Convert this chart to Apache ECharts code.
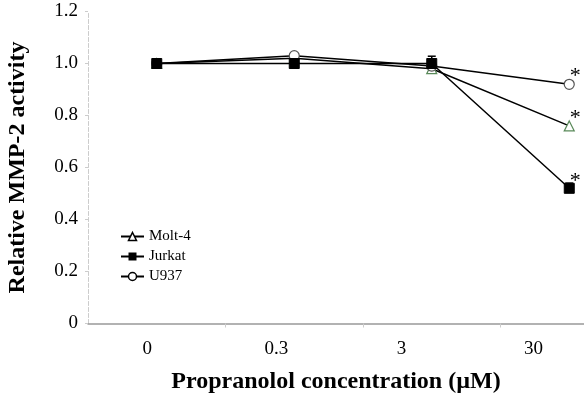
<!DOCTYPE html>
<html><head><meta charset="utf-8">
<script src="https://cdn.jsdelivr.net/npm/echarts@6/dist/echarts.min.js"></script>
<style>html,body{margin:0;padding:0;background:#fff}#c{width:584px;height:400px}</style>
</head><body><div id="c"></div>
<script>
const categories = ['0', '0.3', '3', '30'];
const molt4 = [1.00, 1.02, 0.98, 0.76];
const jurkat = [1.00, 1.00, 1.00, 0.52];
const u937 = [1.00, 1.03, 0.99, 0.92];
const jurkatErr = [0, 0, 0.028, 0.02];
const significance = ['', '', '', '*'];

const labelPos = [0.43, 1.37, 2.28, 3.24];
const FONT = '"Liberation Serif", "Times New Roman", serif';

function pts(arr) {
  return arr.map((v, i) => ({
    value: [i + 0.5, v],
    label: significance[i] ? {show: true, formatter: significance[i]} : {show: false}
  }));
}
const starLabel = {position: [6, -13], fontSize: 22, fontFamily: FONT, color: '#000'};

const chart = echarts.init(document.getElementById('c'));
chart.setOption({
  animation: false,
  backgroundColor: '#fff',
  grid: {left: 88, right: 0, top: 11.5, bottom: 76.5, containLabel: false, outerBoundsMode: 'none'},
  legend: {
    orient: 'vertical', left: 115, top: 224, itemGap: 5, itemWidth: 23, itemHeight: 10,
    textStyle: {fontFamily: FONT, fontSize: 15, color: '#000'},
    data: [
      {name: 'Molt-4', itemStyle: {color: '#fff', borderColor: '#000', borderWidth: 1.5}},
      {name: 'Jurkat', itemStyle: {color: '#000', borderColor: '#000'}},
      {name: 'U937', itemStyle: {color: '#fff', borderColor: '#000', borderWidth: 1.5}}
    ]
  },
  xAxis: {
    type: 'value', min: 0, max: 496 / 137.5, interval: 1,
    name: 'Propranolol concentration (µM)', nameLocation: 'middle', nameGap: 46,
    nameTextStyle: {fontFamily: FONT, fontSize: 24, fontWeight: 'bold', color: '#000'},
    axisLine: {show: true, lineStyle: {color: '#999', width: 1.5}},
    axisTick: {show: true, customValues: [1, 2, 3], length: 6, lineStyle: {color: '#ccc', type: 'dashed'}},
    axisLabel: {
      customValues: labelPos, margin: 16,
      fontFamily: FONT, fontSize: 19, color: '#000',
      formatter: v => categories[labelPos.indexOf(v)]
    },
    splitLine: {show: false}
  },
  yAxis: {
    type: 'value', min: 0, max: 1.2, interval: 0.2,
    name: 'Relative MMP-2 activity', nameLocation: 'middle', nameGap: 58,
    nameTextStyle: {fontFamily: FONT, fontSize: 24, fontWeight: 'bold', color: '#000'},
    axisLine: {show: true, lineStyle: {color: '#ccc', type: 'dashed', width: 1}},
    axisTick: {show: true, length: 3, lineStyle: {color: '#ccc'}},
    axisLabel: {
      fontFamily: FONT, fontSize: 19, color: '#000', margin: 10,
      formatter: v => v === 0 ? '0' : v.toFixed(1)
    },
    splitLine: {show: false}
  },
  series: [
    {
      name: 'Molt-4', type: 'line', data: pts(molt4), symbol: 'triangle', symbolSize: 10,
      lineStyle: {color: '#000', width: 1.5},
      itemStyle: {color: '#fff', borderColor: '#5a8a5a', borderWidth: 1.2},
      label: starLabel, z: 3
    },
    {
      name: 'U937', type: 'line', data: pts(u937), symbol: 'circle', symbolSize: 10,
      lineStyle: {color: '#000', width: 1.5},
      itemStyle: {color: '#fff', borderColor: '#555', borderWidth: 1.2},
      label: starLabel, z: 3
    },
    {
      name: 'Jurkat', type: 'line', data: pts(jurkat), symbol: 'rect', symbolSize: 10,
      lineStyle: {color: '#000', width: 1.5},
      itemStyle: {color: '#000', borderColor: '#000'},
      label: starLabel, z: 4
    },
    {
      type: 'custom', z: 5, silent: true,
      data: jurkat.map((v, i) => [i + 0.5, v, jurkatErr[i]]),
      renderItem: (params, api) => {
        const e = api.value(2);
        if (!e) return null;
        const p0 = api.coord([api.value(0), api.value(1)]);
        const p1 = api.coord([api.value(0), api.value(1) + e]);
        return {type: 'group', children: [
          {type: 'line', shape: {x1: p0[0], y1: p0[1], x2: p1[0], y2: p1[1]}, style: {stroke: '#000', lineWidth: 1.5}},
          {type: 'line', shape: {x1: p1[0] - 4, y1: p1[1], x2: p1[0] + 4, y2: p1[1]}, style: {stroke: '#000', lineWidth: 1.5}}
        ]};
      }
    }
  ]
});
</script></body></html>
